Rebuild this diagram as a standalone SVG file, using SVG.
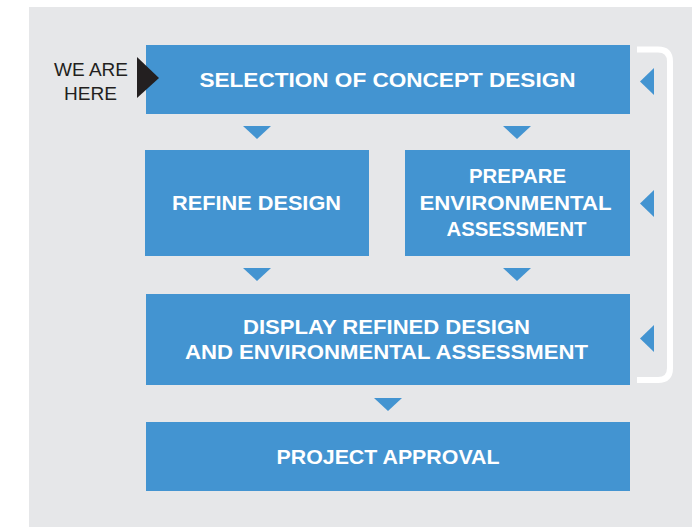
<svg xmlns="http://www.w3.org/2000/svg" width="692" height="527" viewBox="0 0 692 527">
<defs>
<style>
.bg{fill:#e6e7e9}
.box{fill:#4394d1}
.lbl{font-family:"Liberation Sans",Arial,sans-serif;font-weight:bold;font-size:20px;fill:#ffffff;text-anchor:middle}
.here{font-family:"Liberation Sans",Arial,sans-serif;font-size:19px;fill:#231f20;text-anchor:middle}
.tri{fill:#4394d1}
</style>
</defs>
<rect x="0" y="0" width="692" height="527" fill="#ffffff"/>
<rect class="bg" x="29" y="7" width="663" height="520"/>

<g id="selection">
<rect class="box" x="146" y="45" width="484" height="69"/>
<text class="lbl" x="387.5" y="86.5" textLength="376" lengthAdjust="spacingAndGlyphs">SELECTION OF CONCEPT DESIGN</text>
</g>

<g id="we-are-here">
<text class="here" x="91" y="76" textLength="74" lengthAdjust="spacingAndGlyphs">WE ARE</text>
<text class="here" x="90.5" y="100" textLength="53" lengthAdjust="spacingAndGlyphs">HERE</text>
<polygon points="137,57 159,78 137,98" fill="#231f20"/>
</g>

<g id="refine">
<rect class="box" x="145" y="150" width="224" height="106"/>
<text class="lbl" x="256.5" y="210" textLength="169" lengthAdjust="spacingAndGlyphs">REFINE DESIGN</text>
</g>

<g id="prepare">
<rect class="box" x="405" y="150" width="225" height="106"/>
<text class="lbl" x="517.5" y="183" textLength="97" lengthAdjust="spacingAndGlyphs">PREPARE</text>
<text class="lbl" x="515.5" y="209.5" textLength="192" lengthAdjust="spacingAndGlyphs">ENVIRONMENTAL</text>
<text class="lbl" x="516.5" y="235.5" textLength="140" lengthAdjust="spacingAndGlyphs">ASSESSMENT</text>
</g>

<g id="display">
<rect class="box" x="146" y="294" width="484" height="91"/>
<text class="lbl" x="386.5" y="333.5" textLength="287" lengthAdjust="spacingAndGlyphs">DISPLAY REFINED DESIGN</text>
<text class="lbl" x="386.5" y="358.5" textLength="403" lengthAdjust="spacingAndGlyphs">AND ENVIRONMENTAL ASSESSMENT</text>
</g>

<g id="approval">
<rect class="box" x="146" y="422" width="484" height="69"/>
<text class="lbl" x="388" y="464" textLength="223" lengthAdjust="spacingAndGlyphs">PROJECT APPROVAL</text>
</g>

<g id="connectors">
<polygon class="tri" points="243,126 271,126 257,139"/>
<polygon class="tri" points="503,126 531,126 517,139"/>
<polygon class="tri" points="243,268 271,268 257,281"/>
<polygon class="tri" points="503,268 531,268 517,281"/>
<polygon class="tri" points="374,398 402,398 388,411"/>
<path d="M637,49.5 H658 Q670,49.5 670,61.5 V368 Q670,380 658,380 H637" fill="none" stroke="#ffffff" stroke-width="6"/>
<polygon class="tri" points="640,81.5 654,68 654,95"/>
<polygon class="tri" points="640,203.5 654,190 654,217"/>
<polygon class="tri" points="640,338.5 654,325 654,352"/>
</g>
</svg>
